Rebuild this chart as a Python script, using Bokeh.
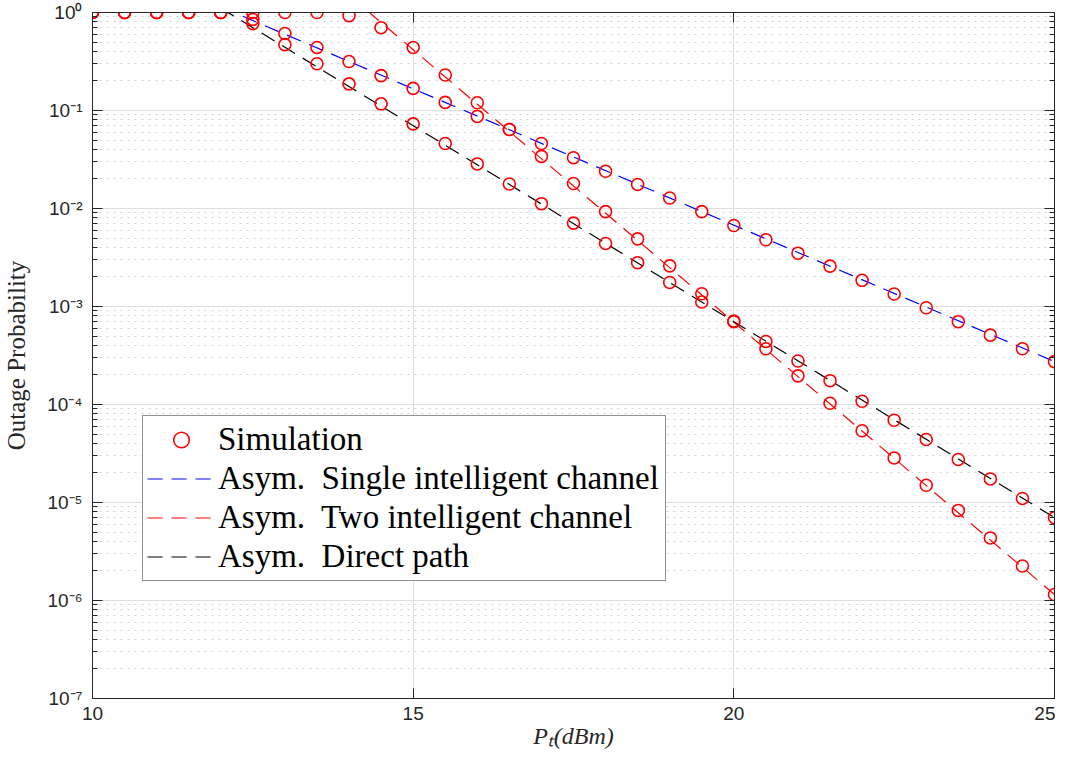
import math
from bokeh.plotting import figure
from bokeh.models import (LogAxis, LinearAxis, FixedTicker, CustomJSTickFormatter,
                          Legend, LegendItem)
from bokeh.embed import file_html
from bokeh.resources import INLINE

# ---------------- data ----------------
pt_dbm = [10.0, 10.5, 11.0, 11.5, 12.0, 12.5, 13.0, 13.5, 14.0, 14.5, 15.0,
          15.5, 16.0, 16.5, 17.0, 17.5, 18.0, 18.5, 19.0, 19.5, 20.0,
          20.5, 21.0, 21.5, 22.0, 22.5, 23.0, 23.5, 24.0, 24.5, 25.0]

sim_single = [1.0, 1.0, 1.0, 1.0, 1.0, 0.85, 0.61, 0.44, 0.316, 0.227, 0.168,
              0.121, 0.087, 0.064, 0.046, 0.033, 0.024, 0.0176, 0.0128, 0.0093, 0.0067,
              0.0048, 0.0035, 0.00258, 0.00185, 0.00134, 0.00097, 0.00070, 0.00051, 0.00037, 0.000274]

sim_two = [1.0, 1.0, 1.0, 1.0, 1.0, 1.0, 1.0, 1.0, 0.93, 0.70, 0.44,
           0.23, 0.12, 0.064, 0.034, 0.018, 0.0093, 0.0049, 0.0026, 0.00135, 0.00071,
           0.00037, 0.000196, 0.000103, 5.4e-5, 2.85e-5, 1.5e-5, 8.3e-6, 4.35e-6, 2.25e-6, 1.15e-6]

sim_direct = [1.0, 1.0, 1.0, 1.0, 1.0, 0.77, 0.47, 0.30, 0.187, 0.117, 0.073,
              0.046, 0.0285, 0.0178, 0.0112, 0.0071, 0.0044, 0.0028, 0.00176, 0.00111, 0.0007,
              0.00044, 0.000278, 0.000175, 0.000108, 6.9e-5, 4.4e-5, 2.75e-5, 1.74e-5, 1.1e-5, 7.0e-6]

asym_single_x = [12.0, 25.0]
asym_single_y = [1.14, 2.74e-4]
asym_two_x = [14.0, 25.0]
asym_two_y = [1.5, 1.15e-6]
asym_direct_x = [12.0, 25.0]
asym_direct_y = [1.11, 7.0e-6]

xtick_values = [10, 15, 20, 25]
ytick_exponents = [-7, -6, -5, -4, -3, -2, -1, 0]
ytick_labels = ["10\u207b\u2077", "10\u207b\u2076", "10\u207b\u2075", "10\u207b\u2074",
                "10\u207b\u00b3", "10\u207b\u00b2", "10\u207b\u00b9", "10\u2070"]

legend_labels = ["Simulation",
                 "Asym.  Single intelligent channel",
                 "Asym.  Two intelligent channel",
                 "Asym.  Direct path"]
x_label_text = "P\u209c(dBm)"
y_label_text = "Outage Probability"

# ---------------- figure ----------------
p = figure(width=1055, height=754, y_axis_type="log",
           x_range=(10, 25), y_range=(1e-7, 1),
           output_backend="svg", toolbar_location=None,
           min_border_left=91, min_border_right=1,
           min_border_top=12, min_border_bottom=56)
p.background_fill_color = "white"
p.border_fill_color = "white"
p.outline_line_color = "#262626"
p.outline_line_width = 1

xt = FixedTicker(ticks=xtick_values)
yt = FixedTicker(ticks=[10.0 ** e for e in ytick_exponents],
                 minor_ticks=[m * 10.0 ** e for e in ytick_exponents[:-1] for m in range(2, 10)])

yfmt = CustomJSTickFormatter(args=dict(labels=ytick_labels, exps=ytick_exponents),
                             code="const e = Math.round(Math.log10(tick)); const i = exps.indexOf(e); return i >= 0 ? labels[i] : '';")
blank = CustomJSTickFormatter(code="return '';")

def style_axis(ax):
    ax.axis_line_color = "#262626"
    ax.axis_line_width = 1
    ax.major_tick_line_color = "#262626"
    ax.minor_tick_line_color = "#262626"
    ax.major_tick_in = 10
    ax.major_tick_out = 0
    ax.minor_tick_in = 5
    ax.minor_tick_out = 0
    ax.major_label_text_font = "Liberation Sans"
    ax.major_label_text_font_size = "19px"
    ax.major_label_text_color = "#262626"
    ax.major_label_standoff = 10

xax = p.xaxis[0]
yax = p.yaxis[0]
xax.ticker = xt
yax.ticker = yt
yax.formatter = yfmt
style_axis(xax)
style_axis(yax)
xax.major_label_standoff = 8

yax.axis_label = y_label_text
yax.axis_label_text_font = "Liberation Serif"
yax.axis_label_text_font_style = "normal"
yax.axis_label_text_font_size = "25px"
yax.axis_label_text_color = "#262626"
yax.axis_label_standoff = 14

xax.axis_label = x_label_text
xax.axis_label_text_font = "Liberation Serif"
xax.axis_label_text_font_style = "italic"
xax.axis_label_text_font_size = "24px"
xax.axis_label_text_color = "#262626"
xax.axis_label_standoff = 0

top_ax = LinearAxis(ticker=xt, formatter=blank)
right_ax = LogAxis(ticker=yt, formatter=blank)
for ax in (top_ax, right_ax):
    style_axis(ax)
    ax.major_label_standoff = 0
p.add_layout(top_ax, "above")
p.add_layout(right_ax, "right")

p.xgrid.ticker = xt
p.ygrid.ticker = yt
p.xgrid.grid_line_color = "#dedede"
p.ygrid.grid_line_color = "#dedede"
p.ygrid.minor_grid_line_color = "#d2d2d2"
p.ygrid.minor_grid_line_dash = "2 5"

# asymptote lines
dash = "15 9"
line_colors = ["#0000ff", "#ff0000", "#000000"]
r_single = p.line(asym_single_x, asym_single_y, line_color=line_colors[0], line_width=1.2, line_dash=dash)
r_two = p.line(asym_two_x, asym_two_y, line_color=line_colors[1], line_width=1.2, line_dash=dash)
r_direct = p.line(asym_direct_x, asym_direct_y, line_color=line_colors[2], line_width=1.2, line_dash=dash)

# simulation markers
r_sim = None
for series in (sim_single, sim_two, sim_direct):
    r = p.scatter(pt_dbm, series, marker="circle", size=12, line_color="#ff0000",
                  fill_color=None, line_width=1.6)
    if r_sim is None:
        r_sim = r

legend = Legend(items=[LegendItem(label=legend_labels[0], renderers=[r_sim]),
                       LegendItem(label=legend_labels[1], renderers=[r_single]),
                       LegendItem(label=legend_labels[2], renderers=[r_two]),
                       LegendItem(label=legend_labels[3], renderers=[r_direct])],
                location=(50, 117))
legend.label_text_font = "Liberation Serif"
legend.label_text_font_size = "33px"
legend.label_text_color = "black"
legend.glyph_width = 68
legend.glyph_height = 39
legend.label_height = 39
legend.label_standoff = 3
legend.label_width = 443
legend.padding = 4
legend.spacing = 0
legend.margin = 0
legend.border_line_color = "#262626"
legend.border_line_width = 1
legend.background_fill_color = "white"
legend.background_fill_alpha = 1
p.add_layout(legend)

open("out.html", "w").write(file_html(p, INLINE))
